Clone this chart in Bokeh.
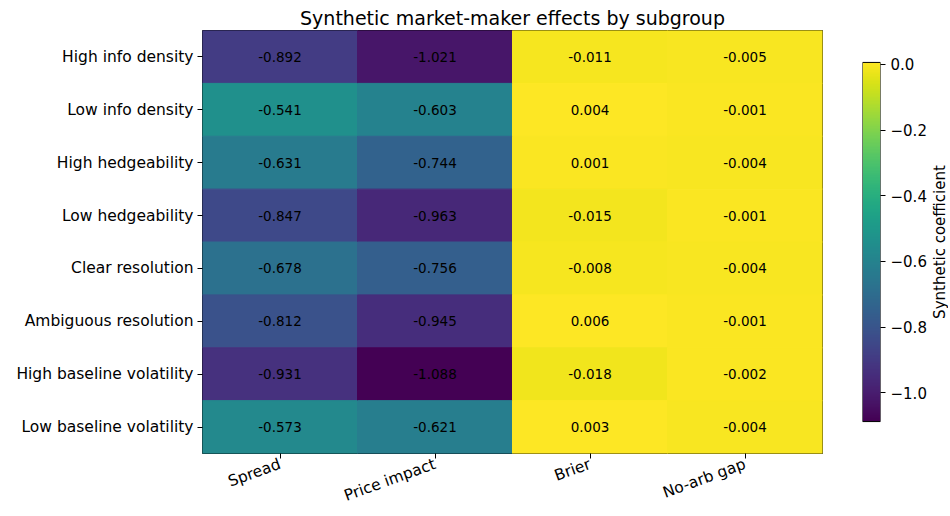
import numpy as np
from bokeh.plotting import figure
from bokeh.layouts import row
from bokeh.models import (ColumnDataSource, FactorRange, LinearColorMapper, Range1d,
                          LinearAxis, FixedTicker)
from bokeh.palettes import Viridis256
from bokeh.transform import transform
from bokeh.core.properties import value
from bokeh.embed import file_html
from bokeh.resources import INLINE

rows = ["High info density", "Low info density", "High hedgeability", "Low hedgeability",
        "Clear resolution", "Ambiguous resolution", "High baseline volatility",
        "Low baseline volatility"]
cols = ["Spread", "Price impact", "Brier", "No-arb gap"]
spread = [-0.892, -0.541, -0.631, -0.847, -0.678, -0.812, -0.931, -0.573]
price_impact = [-1.021, -0.603, -0.744, -0.963, -0.756, -0.945, -1.088, -0.621]
brier = [-0.011, 0.004, 0.001, -0.015, -0.008, 0.006, -0.018, 0.003]
noarb_gap = [-0.005, -0.001, -0.004, -0.001, -0.004, -0.001, -0.002, -0.004]
cbar_ticks = [-1.0, -0.8, -0.6, -0.4, -0.2, 0.0]
cbar_label = "Synthetic coefficient"

series = [spread, price_impact, brier, noarb_gap]
xs, ys, vs = [], [], []
for c, vals in zip(cols, series):
    for r, v in zip(rows, vals):
        xs.append(c); ys.append(r); vs.append(v)
labels = ["%.3f" % v for v in vs]
vmin = min(vs); vmax = max(vs)

src = ColumnDataSource(dict(x=xs, y=ys, v=vs, label=labels))
mapper = LinearColorMapper(palette=Viridis256, low=vmin, high=vmax)

FONT = "DejaVu Sans"
H = 516
TOP, BOT = 30, 56

p = figure(width=840, height=H, x_range=FactorRange(*cols),
           y_range=FactorRange(*reversed(rows)), output_backend="svg",
           toolbar_location=None, min_border_left=202, min_border_right=18,
           min_border_top=TOP, min_border_bottom=BOT)
p.rect(x="x", y="y", width=1, height=1, source=src,
       fill_color=transform("v", mapper), line_color=transform("v", mapper), line_width=1)
p.text(x="x", y="y", text="label", source=src, text_align="center",
       text_baseline="middle", text_font=value(FONT), text_font_size="13.5px",
       text_color="black")
p.title.text = "Synthetic market-maker effects by subgroup"
p.title.text_font = FONT
p.title.text_font_size = "19px"
p.title.text_font_style = "normal"
p.title.align = "center"
p.title.text_color = "black"
p.title.standoff = 4
p.grid.visible = False
p.outline_line_color = "black"
p.outline_line_width = 1
p.outline_line_alpha = 1
for ax in (p.xaxis[0], p.yaxis[0]):
    ax.axis_line_color = None
    ax.major_tick_line_color = "black"
    ax.major_tick_out = 5
    ax.major_tick_in = 0
    ax.minor_tick_line_color = None
    ax.major_label_text_font = FONT
    ax.major_label_text_font_size = "15.5px"
    ax.major_label_text_color = "black"
    ax.major_label_standoff = 4
p.xaxis[0].major_label_standoff = 5
p.xaxis[0].major_label_orientation = 20 * np.pi / 180
p.x_range.range_padding = 0
p.y_range.range_padding = 0

# colorbar figure (bar inset 32 px top and bottom inside the aligned frame)
k = (vmax - vmin) / 360.0
grad = np.linspace(vmin, vmax, 256).reshape(-1, 1)
p2 = figure(frame_width=18, height=H, x_range=Range1d(0, 1),
            y_range=Range1d(vmin - 32 * k, vmax + 32 * k),
            output_backend="svg", toolbar_location=None, min_border_left=22,
            min_border_right=50, min_border_top=TOP, min_border_bottom=BOT,
            y_axis_location=None, x_axis_location=None)
p2.image(image=[grad], x=0, y=vmin, dw=1, dh=vmax - vmin, color_mapper=mapper)
p2.quad(left=0, right=1, bottom=vmin, top=vmax, fill_color=None, line_color="black",
        line_width=1)
p2.grid.visible = False
p2.outline_line_color = None
rax = LinearAxis(ticker=FixedTicker(ticks=cbar_ticks))
rax.major_label_overrides = {t: ("%.1f" % t).replace("-", "\u2212") for t in cbar_ticks}
rax.axis_line_color = None
rax.major_tick_line_color = "black"
rax.major_tick_out = 5
rax.major_tick_in = 0
rax.minor_tick_line_color = None
rax.major_label_text_font = FONT
rax.major_label_text_font_size = "15px"
rax.major_label_text_color = "black"
rax.major_label_standoff = 5
p2.add_layout(rax, "right")

# colorbar label figure
p3 = figure(width=18, height=H, x_range=Range1d(0, 1), y_range=Range1d(0, 1),
            output_backend="svg", toolbar_location=None, min_border=0,
            min_border_left=0, min_border_right=0, min_border_top=0,
            min_border_bottom=0, x_axis_location=None, y_axis_location=None)
p3.text(x=[0.5], y=[0.5], text=[cbar_label], angle=np.pi / 2, text_align="center",
        text_baseline="middle", text_font=value(FONT), text_font_size="15px",
        text_color="black")
p3.grid.visible = False
p3.outline_line_color = None

layout = row(p, p2, p3)
open("out.html", "w").write(file_html(layout, INLINE))
